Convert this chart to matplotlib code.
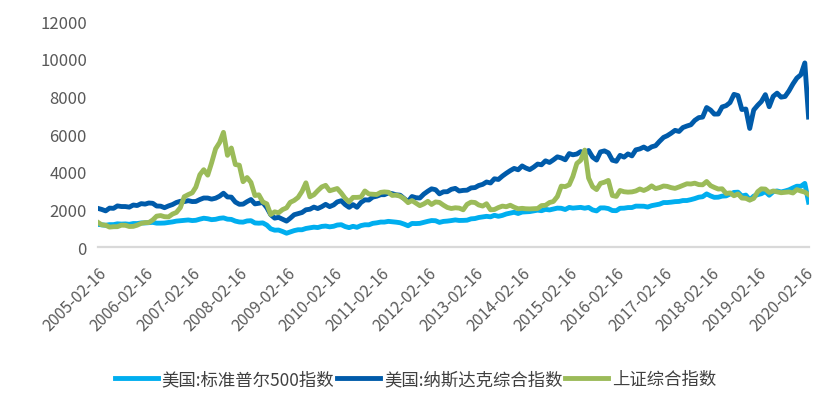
import pandas as pd
import matplotlib
matplotlib.use("Agg")
import matplotlib.pyplot as plt

plt.rcParams["font.family"] = ["Noto Sans CJK SC", "DejaVu Sans"]

# monthly values, 16th of each month, 2005-02 .. 2020-03
dates = pd.date_range("2005-02-01", "2020-03-01", freq="MS") + pd.Timedelta(days=15)

sp500 = [
    1203, 1180, 1157, 1191, 1191, 1234, 1220, 1229, 1207, 1249, 1248,
    1280, 1281, 1295, 1311, 1270, 1270, 1277, 1304, 1336, 1378, 1401, 1418,
    1438, 1407, 1421, 1482, 1531, 1503, 1455, 1474, 1527, 1549, 1481, 1468,
    1379, 1331, 1323, 1386, 1400, 1280, 1267, 1283, 1166, 969, 896, 903,
    826, 735, 798, 873, 919, 919, 987, 1021, 1057, 1036, 1096, 1115,
    1074, 1104, 1169, 1187, 1089, 1031, 1102, 1049, 1141, 1183, 1181, 1258,
    1286, 1327, 1326, 1364, 1345, 1321, 1292, 1219, 1131, 1253, 1247, 1258,
    1312, 1366, 1408, 1398, 1310, 1362, 1379, 1407, 1441, 1412, 1416, 1426,
    1498, 1515, 1569, 1598, 1631, 1606, 1686, 1633, 1682, 1757, 1806, 1848,
    1783, 1859, 1872, 1884, 1924, 1960, 1931, 2003, 1972, 2018, 2068, 2059,
    1995, 2105, 2068, 2086, 2107, 2063, 2104, 1972, 1920, 2079, 2080, 2044,
    1940, 1932, 2060, 2065, 2097, 2099, 2174, 2171, 2168, 2126, 2199, 2239,
    2279, 2364, 2363, 2384, 2412, 2423, 2470, 2472, 2519, 2575, 2648, 2674,
    2824, 2714, 2641, 2648, 2705, 2718, 2816, 2902, 2914, 2712, 2760, 2507,
    2704, 2784, 2834, 2946, 2752, 2942, 2980, 2926, 2977, 3038, 3141, 3231,
    3226, 3380, 2386,
]

nasdaq = [
    2052, 1999, 1922, 2068, 2057, 2185, 2152, 2151, 2120, 2233, 2205,
    2306, 2281, 2340, 2323, 2179, 2172, 2091, 2184, 2258, 2367, 2432, 2415,
    2464, 2416, 2422, 2525, 2605, 2603, 2546, 2596, 2702, 2859, 2661, 2652,
    2390, 2271, 2279, 2413, 2523, 2293, 2326, 2368, 2092, 1721, 1536, 1577,
    1476, 1378, 1529, 1717, 1774, 1835, 1979, 2009, 2122, 2045, 2145, 2269,
    2147, 2238, 2398, 2461, 2257, 2109, 2255, 2114, 2369, 2507, 2498, 2653,
    2700, 2782, 2781, 2874, 2835, 2774, 2756, 2579, 2415, 2684, 2620, 2605,
    2814, 2967, 3092, 3046, 2827, 2935, 2940, 3067, 3116, 2977, 3010, 3020,
    3142, 3160, 3268, 3329, 3456, 3403, 3626, 3590, 3771, 3920, 4060, 4177,
    4104, 4308, 4199, 4115, 4243, 4408, 4370, 4580, 4493, 4631, 4792, 4736,
    4635, 4964, 4901, 4941, 5070, 4987, 5128, 4777, 4620, 5054, 5109, 5007,
    4614, 4558, 4870, 4775, 4948, 4843, 5162, 5213, 5312, 5189, 5324, 5383,
    5615, 5825, 5912, 6048, 6199, 6140, 6348, 6429, 6496, 6728, 6874, 6903,
    7411, 7273, 7063, 7066, 7442, 7510, 7672, 8110, 8046, 7306, 7331, 6300,
    7282, 7533, 7729, 8095, 7453, 8006, 8175, 7963, 7999, 8292, 8665, 8973,
    9151, 9780, 6904,
]

shanghai = [
    1307, 1181, 1159, 1060, 1080, 1083, 1162, 1155, 1092, 1099, 1161,
    1258, 1299, 1299, 1440, 1641, 1672, 1612, 1601, 1752, 1837, 2099, 2675,
    2786, 2881, 3183, 3841, 4109, 3820, 4471, 5218, 5552, 6092, 4871, 5261,
    4383, 4348, 3472, 3693, 3433, 2736, 2775, 2397, 2293, 1728, 1871, 1820,
    1990, 2082, 2373, 2477, 2632, 2959, 3412, 2667, 2779, 2995, 3195, 3277,
    2989, 3051, 3109, 2870, 2592, 2398, 2638, 2638, 2656, 2979, 2820, 2808,
    2790, 2905, 2928, 2911, 2743, 2762, 2701, 2567, 2359, 2468, 2333, 2199,
    2292, 2428, 2262, 2396, 2372, 2225, 2103, 2047, 2086, 2068, 1980, 2269,
    2385, 2365, 2236, 2177, 2300, 1979, 1994, 2098, 2175, 2141, 2220, 2116,
    2033, 2056, 2033, 2026, 2039, 2048, 2202, 2217, 2364, 2420, 2683, 3235,
    3210, 3310, 3748, 4442, 4612, 5150, 3664, 3206, 3053, 3383, 3445, 3539,
    2738, 2688, 3004, 2938, 2917, 2930, 2979, 3085, 3005, 3100, 3250, 3104,
    3159, 3242, 3223, 3155, 3117, 3192, 3273, 3361, 3349, 3393, 3317, 3307,
    3481, 3259, 3169, 3082, 3095, 2847, 2876, 2725, 2821, 2603, 2588, 2494,
    2585, 2941, 3091, 3078, 2899, 2979, 2933, 2886, 2905, 2929, 2872, 3050,
    2977, 2917, 2789,
]

names = ["美国:标准普尔500指数", "美国:纳斯达克综合指数", "上证综合指数"]
colors = ["#00AEEF", "#005BAA", "#9BBB59"]

fig = plt.figure(figsize=(8.31, 4.10), dpi=100)
ax = fig.add_axes([0.118, 0.395, 0.855, 0.551])

for vals, name, c in zip([sp500, nasdaq, shanghai], names, colors):
    ax.plot(dates, vals, color=c, lw=3.5, label=name, solid_joinstyle="round")

ax.set_xlim(dates[0], dates[-1])
ax.set_ylim(0, 12000)
ax.set_yticks(range(0, 12001, 2000))

xt = pd.date_range("2005-02-01", "2020-02-01", freq="12MS") + pd.Timedelta(days=15)
ax.set_xticks(xt)
ax.set_xticklabels([d.strftime("%Y-%m-%d") for d in xt], rotation=45,
                   ha="right", rotation_mode="anchor")

for s in ["top", "right", "left"]:
    ax.spines[s].set_visible(False)
ax.spines["bottom"].set_color("#D9D9D9")
ax.spines["bottom"].set_linewidth(1.6)
ax.tick_params(axis="both", length=0, colors="#595959", labelsize=11.5)
ax.tick_params(axis="y", labelsize=12, pad=8)
ax.tick_params(axis="x", pad=12)

fig.legend(loc="center", bbox_to_anchor=(0.5, 0.073), ncol=3, frameon=False,
           fontsize=12.5, handlelength=2.5, handletextpad=0.2,
           columnspacing=0.15, labelcolor="#404040")

fig.savefig("out.png", dpi=100)
